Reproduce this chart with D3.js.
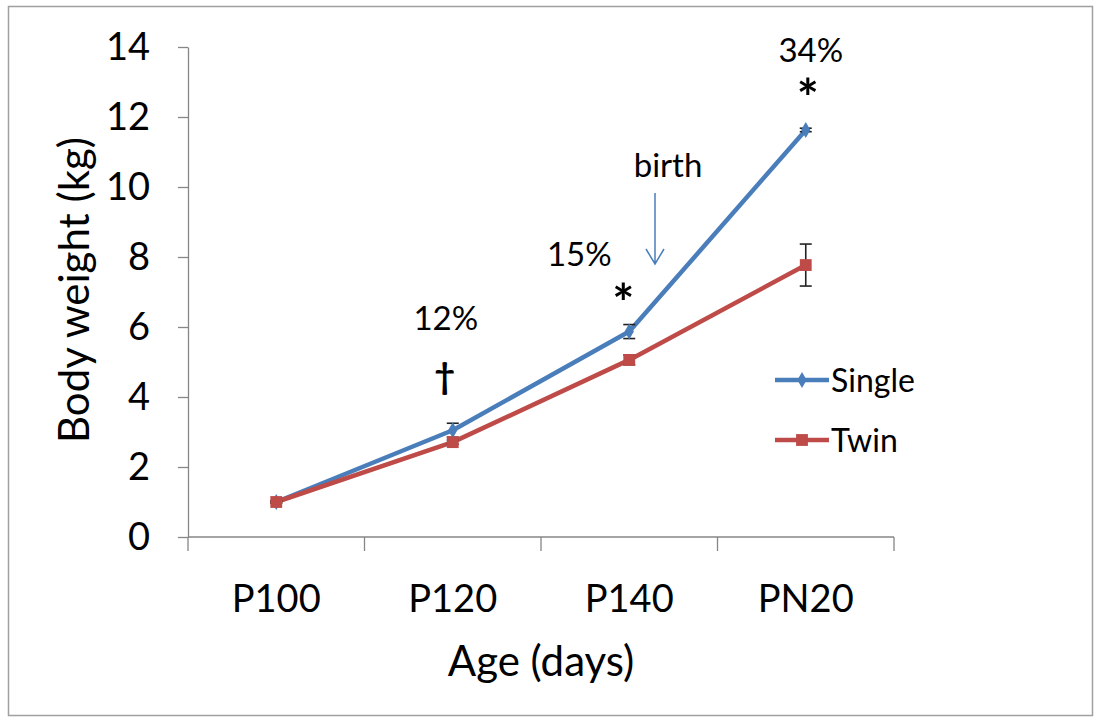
<!DOCTYPE html>
<html lang="en">
<meta charset="UTF-8">
<style>
    body{ margin:0; background:#fff; }
    text{ font-family: Lato, "Open Sans", sans-serif; fill:#000; }
    .axis path, .axis line{ stroke:#868686; stroke-width:1.3; }
</style>
<body>
<div id="chart"></div>
<script src="https://cdnjs.cloudflare.com/ajax/libs/d3/7.8.5/d3.min.js"></script>
<script>
    var width = 1095, height = 717;
    var margin = {top:47, right:201, bottom:180, left:188};

    // data
    var ages = ["P100", "P120", "P140", "PN20"];
    var singleMean = [1.0, 3.05, 5.87, 11.63];
    var singleErr  = [0.03, 0.2, 0.2, 0.05];
    var twinMean   = [1.0, 2.71, 5.06, 7.77];
    var twinErr    = [0.03, 0.06, 0.14, 0.6];
    var yTicks = [0, 2, 4, 6, 8, 10, 12, 14];

    var series = [
        {name:"Single", mean:singleMean, err:singleErr, color:"#4a7ebb", symbol:d3.symbolDiamond, size:75},
        {name:"Twin",   mean:twinMean,   err:twinErr,   color:"#be4b48", symbol:d3.symbolSquare,  size:140}
    ];

    var svg = d3.select("#chart").append("svg")
        .attr("width", width)
        .attr("height", height);

    // outer frame
    svg.append("rect")
        .attr("x", 8.5).attr("y", 6.5)
        .attr("width", 1084).attr("height", 709)
        .attr("fill", "none")
        .attr("stroke", "#a0a0a0")
        .attr("stroke-width", 1.5);

    var x = d3.scaleBand()
        .domain(ages)
        .range([margin.left, width - margin.right])
        .padding(0);

    var y = d3.scaleLinear()
        .domain([0, 14])
        .range([height - margin.bottom, margin.top]);

    // y axis
    svg.append("g")
        .attr("class", "axis")
        .attr("transform", "translate(" + margin.left + ",0)")
        .call(d3.axisLeft(y).tickValues(yTicks).tickSize(10).tickSizeOuter(0).tickPadding(28))
        .call(function(g){ g.selectAll("text").style("font-size", "38px").attr("fill", "#000"); });

    // x axis: ticks at band edges, labels at centres
    var xAxis = svg.append("g").attr("class", "axis");
    xAxis.append("line")
        .attr("x1", x.range()[0]).attr("x2", x.range()[1])
        .attr("y1", y(0)).attr("y2", y(0));
    var edges = ages.map(function(d){ return x(d); }).concat([x.range()[1]]);
    xAxis.selectAll("line.tick")
        .data(edges)
        .enter().append("line")
        .attr("class", "tick")
        .attr("x1", function(d){ return d; }).attr("x2", function(d){ return d; })
        .attr("y1", y(0)).attr("y2", y(0) + 14);
    xAxis.selectAll("text")
        .data(ages)
        .enter().append("text")
        .attr("x", function(d){ return x(d) + x.bandwidth()/2; })
        .attr("y", y(0) + 75)
        .attr("text-anchor", "middle")
        .style("font-size", "38px")
        .text(function(d){ return d; });

    // axis titles
    svg.append("text")
        .attr("x", 541).attr("y", 676)
        .attr("text-anchor", "middle")
        .style("font-size", "42px")
        .text("Age (days)");

    svg.append("text")
        .attr("transform", "translate(89,290) rotate(-90)")
        .attr("text-anchor", "middle")
        .style("font-size", "42px")
        .text("Body weight (kg)");

    var cx = function(i){ return x(ages[i]) + x.bandwidth()/2; };

    // lines, error bars, markers
    series.forEach(function(s){
        var line = d3.line()
            .x(function(d, i){ return cx(i); })
            .y(function(d){ return y(d); });

        svg.append("path")
            .datum(s.mean)
            .attr("d", line)
            .attr("fill", "none")
            .attr("stroke", s.color)
            .attr("stroke-width", 4.5)
            .attr("stroke-linejoin", "round");

        var eb = svg.append("g")
            .selectAll("g")
            .data(s.mean)
            .enter().append("g")
            .attr("stroke", "#222")
            .attr("stroke-width", 1.6);
        eb.append("line")
            .attr("x1", function(d, i){ return cx(i); })
            .attr("x2", function(d, i){ return cx(i); })
            .attr("y1", function(d, i){ return y(d + s.err[i]); })
            .attr("y2", function(d, i){ return y(d - s.err[i]); });
        eb.append("line")
            .attr("x1", function(d, i){ return cx(i) - 6; })
            .attr("x2", function(d, i){ return cx(i) + 6; })
            .attr("y1", function(d, i){ return y(d + s.err[i]); })
            .attr("y2", function(d, i){ return y(d + s.err[i]); });
        eb.append("line")
            .attr("x1", function(d, i){ return cx(i) - 6; })
            .attr("x2", function(d, i){ return cx(i) + 6; })
            .attr("y1", function(d, i){ return y(d - s.err[i]); })
            .attr("y2", function(d, i){ return y(d - s.err[i]); });

        svg.append("g")
            .selectAll("path")
            .data(s.mean)
            .enter().append("path")
            .attr("d", d3.symbol().type(s.symbol).size(s.size))
            .attr("transform", function(d, i){ return "translate(" + cx(i) + "," + y(d) + ")"; })
            .attr("fill", s.color);
    });

    // legend
    var legend = svg.selectAll("g.legend")
        .data(series)
        .enter().append("g")
        .attr("class", "legend")
        .attr("transform", function(d, i){ return "translate(775," + (380 + 60*i) + ")"; });
    legend.append("line")
        .attr("x1", 0).attr("x2", 54)
        .attr("stroke", function(d){ return d.color; })
        .attr("stroke-width", 4.5);
    legend.append("path")
        .attr("d", function(d){ return d3.symbol().type(d.symbol).size(d.size)(); })
        .attr("transform", "translate(27,0)")
        .attr("fill", function(d){ return d.color; });
    legend.append("text")
        .attr("x", 56).attr("y", 12)
        .style("font-size", "32px")
        .text(function(d){ return d.name; });

    // annotations
    var notes = svg.append("g").attr("text-anchor", "middle").style("font-size", "33px");
    notes.append("text").attr("x", cx(1) - 7).attr("y", 330).text("12%");
    notes.append("text").attr("x", cx(1) - 8).attr("y", 389).style("font-size", "36px").style("font-weight", "bold").text("\u2020");
    notes.append("text").attr("x", cx(2) - 50).attr("y", 266).text("15%");
    notes.append("text").attr("x", cx(2) - 6).attr("y", 322).style("font-size", "52px").style("font-weight", "bold").text("*");
    notes.append("text").attr("x", cx(3) + 5).attr("y", 62).text("34%");
    notes.append("text").attr("x", cx(3) + 2).attr("y", 117).style("font-size", "52px").style("font-weight", "bold").text("*");
    notes.append("text").attr("x", 668).attr("y", 177).text("birth");

    // birth arrow
    svg.append("path")
        .attr("d", "M655,193 L655,264 M646,249 L655,264 L664,249")
        .attr("fill", "none")
        .attr("stroke", "#4a7ebb")
        .attr("stroke-width", 1.5);
</script>
</body>
</html>
